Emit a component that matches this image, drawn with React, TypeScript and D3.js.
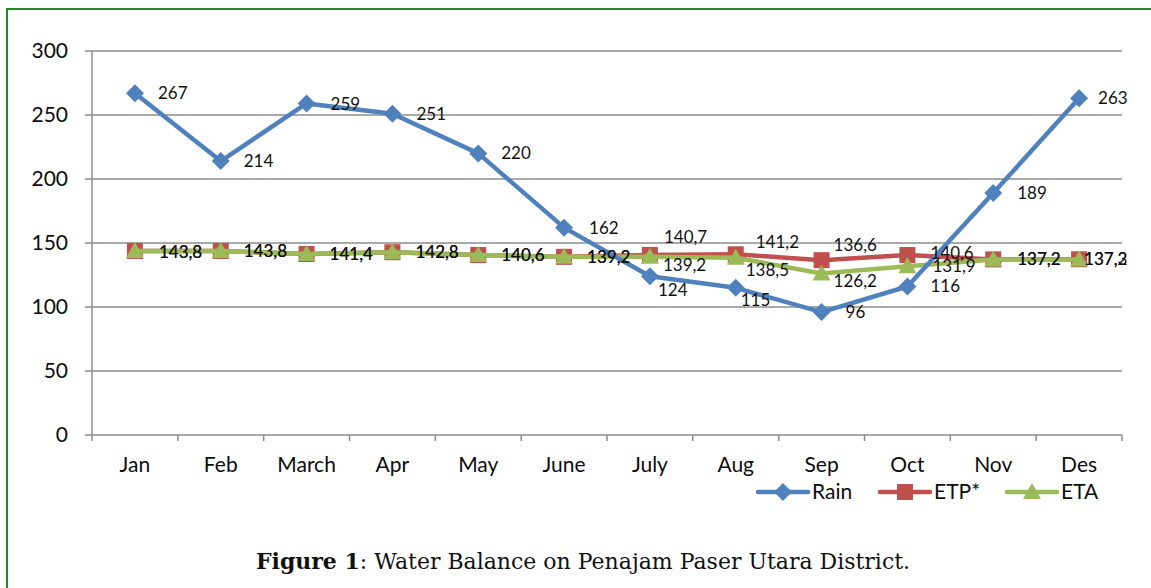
import React from 'react';
import * as d3 from 'd3';

const months = ['Jan', 'Feb', 'March', 'Apr', 'May', 'June', 'July', 'Aug', 'Sep', 'Oct', 'Nov', 'Des'];
const rain = [267, 214, 259, 251, 220, 162, 124, 115, 96, 116, 189, 263];
const etp = [143.8, 143.8, 141.4, 142.8, 140.6, 139.2, 140.7, 141.2, 136.6, 140.6, 137.2, 137.3];
const eta = [143.8, 143.8, 141.4, 142.8, 140.6, 139.2, 139.2, 138.5, 126.2, 131.9, 137.2, 137.2];
const yTicks = [0, 50, 100, 150, 200, 250, 300];

// label nudges (Excel moved a few of them by hand)
const rainNudge = [[23, 0], [23, 0], [24, 1], [24, 0], [23, 0], [25, 0], [8, 14], [5, 12], [24, 0], [23, 0], [24, 0], [19, 0]];
const etpNudge = [[24, 1], [23, 0], [23, 0], [23, 0], [23, 0], [23, 0], [14, -18], [20, -12], [12, -15], [23, -2], [24, 0], [5, 0]];
const etaNudge = [[24, 1], [23, 0], [23, 0], [23, 0], [23, 0], [23, 0], [13, 8], [10, 12], [12, 8], [25, 0], [24, 0], [5, 0]];

const W = 1151;
const H = 588;
const font = 'Lato, "Noto Sans", sans-serif';

const x = d3.scalePoint<string>().domain(months).range([92, 1122]).padding(0.5);
const y = d3.scaleLinear().domain([0, 300]).range([435, 51]);
const step = x.step();

const line = d3.line<number>()
  .x((d, i) => x(months[i]) as number)
  .y((d) => y(d));

const fmt = (v: number) => String(v).replace('.', ',');

function Marker({ kind, cx, cy, color }: { kind: string; cx: number; cy: number; color: string }) {
  if (kind === 'diamond') {
    return <path d={`M${cx},${cy - 9}L${cx + 9},${cy}L${cx},${cy + 9}L${cx - 9},${cy}Z`} fill={color} />;
  }
  if (kind === 'square') {
    return <rect x={cx - 8} y={cy - 8} width={16} height={16} fill={color} />;
  }
  return <path d={`M${cx},${cy - 9}L${cx + 9},${cy + 7}L${cx - 9},${cy + 7}Z`} fill={color} />;
}

const series = [
  { name: 'ETP*', values: etp, color: '#C0504D', kind: 'square', nudge: etpNudge },
  { name: 'ETA', values: eta, color: '#9BBB59', kind: 'triangle', nudge: etaNudge },
  { name: 'Rain', values: rain, color: '#4F81BD', kind: 'diamond', nudge: rainNudge },
];

const legend = [
  { name: 'Rain', color: '#4F81BD', kind: 'diamond', x0: 758 },
  { name: 'ETP*', color: '#C0504D', kind: 'square', x0: 880 },
  { name: 'ETA', color: '#9BBB59', kind: 'triangle', x0: 1007 },
];

export default function App() {
  return (
    <svg width={W} height={H} style={{ position: 'absolute', left: 0, top: 0, background: '#fff' }}>
      <rect x={0} y={0} width={W} height={H} fill="#fff" />
      <rect x={7} y={9} width={1300} height={800} fill="none" stroke="#1E8B1E" strokeWidth={2} />

      {/* grid */}
      {yTicks.map((t) => (
        <g key={t}>
          <line x1={85} x2={1122} y1={y(t)} y2={y(t)} stroke="#8C8C8C" strokeWidth={1.5} />
          <text x={68} y={y(t)} dy="0.35em" textAnchor="end" fontFamily={font} fontSize={21} fill="#0d0d0d">{t}</text>
        </g>
      ))}
      <line x1={92} x2={92} y1={51} y2={435} stroke="#8C8C8C" strokeWidth={1.5} />
      {d3.range(13).map((i) => (
        <line key={i} x1={92 + i * step} x2={92 + i * step} y1={435} y2={441} stroke="#8C8C8C" strokeWidth={1.5} />
      ))}
      {months.map((m) => (
        <text key={m} x={x(m)} y={465} dy="0.35em" textAnchor="middle" fontFamily={font} fontSize={21} fill="#0d0d0d">{m}</text>
      ))}

      {/* lines + markers */}
      {series.map((s) => (
        <g key={s.name}>
          <path d={line(s.values) || ''} fill="none" stroke={s.color} strokeWidth={4.5} strokeLinejoin="round" />
          {s.values.map((v, i) => (
            <Marker key={i} kind={s.kind} cx={x(months[i]) as number} cy={y(v)} color={s.color} />
          ))}
        </g>
      ))}

      {/* data labels */}
      {series.map((s) => (
        <g key={s.name + '-lab'}>
          {s.values.map((v, i) => (
            <text key={i} x={(x(months[i]) as number) + s.nudge[i][0]} y={y(v) + s.nudge[i][1]} dy="0.35em"
              fontFamily={font} fontSize={17} fill="#111">{fmt(v)}</text>
          ))}
        </g>
      ))}

      {/* legend */}
      {legend.map((l) => (
        <g key={l.name}>
          <line x1={l.x0} x2={l.x0 + 50} y1={492} y2={492} stroke={l.color} strokeWidth={4.5} strokeLinecap="round" />
          <Marker kind={l.kind} cx={l.x0 + 25} cy={492} color={l.color} />
          <text x={l.x0 + 54} y={492} dy="0.35em" fontFamily={font} fontSize={21} fill="#0d0d0d">{l.name}</text>
        </g>
      ))}

      <text x={583} y={561} dy="0.35em" textAnchor="middle" fontFamily='"DejaVu Serif", serif' fontSize={22} fill="#111">
        <tspan fontWeight="bold">Figure 1</tspan>: Water Balance on Penajam Paser Utara District.
      </text>
    </svg>
  );
}
